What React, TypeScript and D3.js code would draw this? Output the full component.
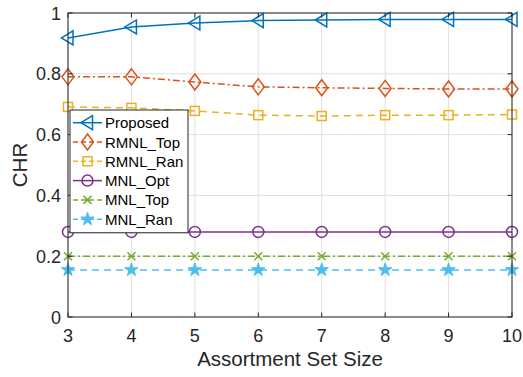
import React from "react";
import * as d3 from "d3";

const sizes = [3, 4, 5, 6, 7, 8, 9, 10];
const proposed = [0.918, 0.954, 0.967, 0.975, 0.977, 0.979, 0.979, 0.979];
const rmnlTop = [0.79, 0.79, 0.773, 0.757, 0.754, 0.752, 0.75, 0.75];
const rmnlRan = [0.691, 0.688, 0.678, 0.664, 0.661, 0.664, 0.664, 0.666];
const mnlOpt = [0.28, 0.28, 0.28, 0.28, 0.28, 0.28, 0.28, 0.28];
const mnlTop = [0.2, 0.2, 0.2, 0.2, 0.2, 0.2, 0.2, 0.2];
const mnlRan = [0.155, 0.155, 0.155, 0.155, 0.155, 0.155, 0.155, 0.155];
const yTicks = [0, 0.2, 0.4, 0.6, 0.8, 1];
const yTickLabels = ["0", "0.2", "0.4", "0.6", "0.8", "1"];

const series = [
  { name: "Proposed", values: proposed, color: "#0072BD", dash: "", marker: "tri" },
  { name: "RMNL_Top", values: rmnlTop, color: "#D95319", dash: "7,3,2,3", marker: "diamond" },
  { name: "RMNL_Ran", values: rmnlRan, color: "#EDB120", dash: "7,5", marker: "square" },
  { name: "MNL_Opt", values: mnlOpt, color: "#7E2F8E", dash: "", marker: "circle" },
  { name: "MNL_Top", values: mnlTop, color: "#77AC30", dash: "7,3,2,3", marker: "x" },
  { name: "MNL_Ran", values: mnlRan, color: "#4DBEEE", dash: "7,5", marker: "star" },
];

const font = "'Liberation Sans', Helvetica, Arial, sans-serif";

function Marker({ type, x, y, color }: { type: string; x: number; y: number; color: string }) {
  const common = { fill: "none", stroke: color, strokeWidth: 1.5 };
  if (type === "tri")
    return <path d={`M${x - 6.5},${y} L${x + 5},${y - 7} L${x + 5},${y + 7} Z`} {...common} />;
  if (type === "diamond")
    return <path d={`M${x},${y - 8} L${x + 6},${y} L${x},${y + 8} L${x - 6},${y} Z`} {...common} />;
  if (type === "square") return <rect x={x - 4.5} y={y - 4.5} width={9} height={9} {...common} />;
  if (type === "circle") return <circle cx={x} cy={y} r={5.5} {...common} />;
  if (type === "x")
    return <path d={`M${x - 4},${y - 4} L${x + 4},${y + 4} M${x - 4},${y + 4} L${x + 4},${y - 4}`} {...common} />;
  const star = d3.symbol(d3.symbolStar, 55)();
  return <path d={star || ""} transform={`translate(${x},${y})`} fill={color} stroke={color} strokeWidth={1} />;
}

export default function App() {
  const W = 523, H = 377;
  const left = 68, right = 512, top = 13, bottom = 317;
  const x = d3.scaleLinear().domain([3, 10]).range([left, right]);
  const y = d3.scaleLinear().domain([0, 1]).range([bottom, top]);
  const line = d3.line<number>().x((_, i) => x(sizes[i])).y((d) => y(d));

  const lgX = 70, lgY = 110, lgW = 118, lgRow = 19.3;

  return (
    <svg width={W} height={H} style={{ position: "absolute", left: 0, top: 0, background: "#fff" }}>
      <rect width={W} height={H} fill="#fff" />
      {sizes.map((s) => (
        <line key={"gx" + s} x1={x(s)} x2={x(s)} y1={top} y2={bottom} stroke="#dfdfdf" strokeWidth={1} />
      ))}
      {yTicks.map((t) => (
        <line key={"gy" + t} x1={left} x2={right} y1={y(t)} y2={y(t)} stroke="#dfdfdf" strokeWidth={1} />
      ))}
      {series.map((s) => (
        <g key={s.name}>
          <path d={line(s.values) || ""} fill="none" stroke={s.color} strokeWidth={1.5} strokeDasharray={s.dash} />
          {s.values.map((v, i) => (
            <Marker key={i} type={s.marker} x={x(sizes[i])} y={y(v)} color={s.color} />
          ))}
        </g>
      ))}
      <rect x={left} y={top} width={right - left} height={bottom - top} fill="none" stroke="#262626" strokeWidth={1} />
      {sizes.map((s) => (
        <g key={"tx" + s}>
          <line x1={x(s)} x2={x(s)} y1={bottom} y2={bottom - 4.5} stroke="#262626" />
          <line x1={x(s)} x2={x(s)} y1={top} y2={top + 4.5} stroke="#262626" />
          <text x={x(s)} y={bottom + 25} textAnchor="middle" fontSize={18} fontFamily={font} fill="#262626">
            {s}
          </text>
        </g>
      ))}
      {yTicks.map((t, i) => (
        <g key={"ty" + t}>
          <line x1={left} x2={left + 4.5} y1={y(t)} y2={y(t)} stroke="#262626" />
          <line x1={right} x2={right - 4.5} y1={y(t)} y2={y(t)} stroke="#262626" />
          <text x={left - 7} y={y(t) + 6.5} textAnchor="end" fontSize={18} fontFamily={font} fill="#262626">
            {yTickLabels[i]}
          </text>
        </g>
      ))}
      <text x={(left + right) / 2} y={366} textAnchor="middle" fontSize={20.5} fontFamily={font} fill="#262626">
        Assortment Set Size
      </text>
      <text transform={`translate(27,${(top + bottom) / 2}) rotate(-90)`} textAnchor="middle" fontSize={20.5} fontFamily={font} fill="#262626">
        CHR
      </text>
      <g>
        <rect x={lgX} y={lgY} width={lgW} height={lgRow * 6 + 7} fill="#fff" stroke="#262626" strokeWidth={1} />
        {series.map((s, i) => {
          const cy = lgY + 12.7 + i * lgRow;
          return (
            <g key={"lg" + s.name}>
              <line x1={lgX + 3} x2={lgX + 32} y1={cy} y2={cy} stroke={s.color} strokeWidth={1.5} strokeDasharray={s.dash ? "5,3" : ""} />
              <Marker type={s.marker} x={lgX + 17.5} y={cy} color={s.color} />
              <text x={lgX + 35} y={cy + 5.5} fontSize={15} fontFamily={font} fill="#000">
                {s.name}
              </text>
            </g>
          );
        })}
      </g>
    </svg>
  );
}
